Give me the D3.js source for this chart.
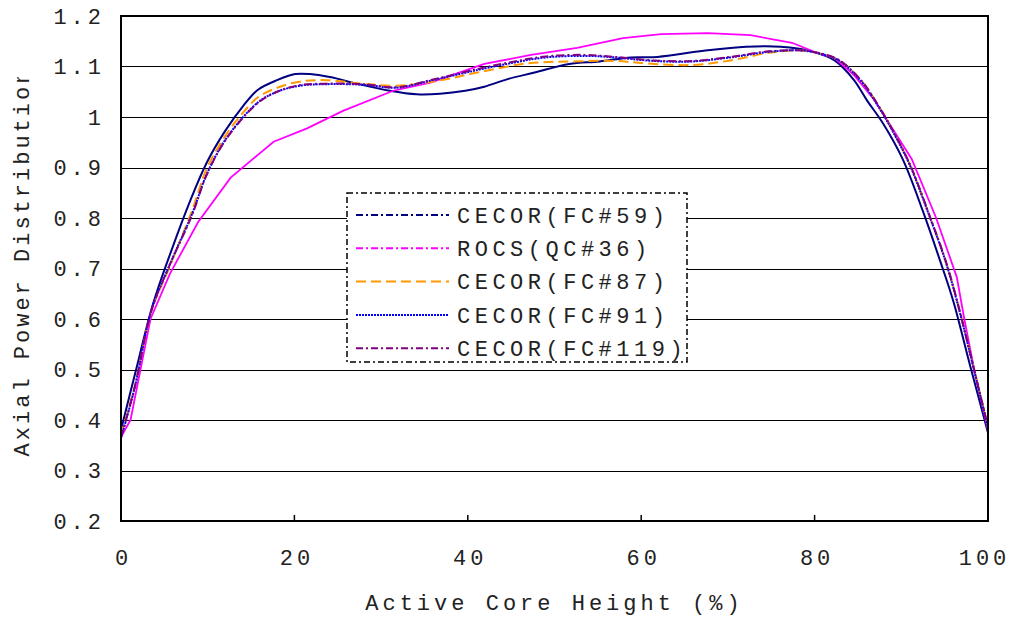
<!DOCTYPE html>
<html>
<head>
<meta charset="utf-8">
<script src="https://cdn.jsdelivr.net/npm/d3@7"></script>
<style>
  body { margin: 0; background: #fff; }
  svg text { font-family: "Liberation Mono", "DejaVu Sans Mono", monospace; fill: #222; }
</style>
</head>
<body>
<div id="chart"></div>
<script>
// data: x = active core height (%), y = axial power
var xTicks = [0, 20, 40, 60, 80, 100];
var yTicks = [0.2, 0.3, 0.4, 0.5, 0.6, 0.7, 0.8, 0.9, 1.0, 1.1, 1.2];

var fc59X = [0, 1.6, 3.7, 5.8, 8.0, 9.9, 12.0, 14.1, 15.8, 18.0, 20.1, 21.8, 24.1, 27.2, 31.0, 34.1, 36.8, 39.7, 41.9, 44.6, 47.7, 51.7, 55.2, 58.8, 61.9, 67.2, 72.1, 76.1, 79.6, 82.3, 84.5, 86.0, 87.9, 90.2, 92.5, 94.5, 96.0, 97.9, 100];
var fc59Y = [0.38, 0.49, 0.63, 0.735, 0.835, 0.91, 0.972, 1.022, 1.054, 1.073, 1.085, 1.085, 1.079, 1.066, 1.052, 1.045, 1.046, 1.052, 1.060, 1.075, 1.088, 1.105, 1.110, 1.118, 1.119, 1.131, 1.139, 1.139, 1.130, 1.112, 1.074, 1.034, 0.987, 0.915, 0.813, 0.714, 0.635, 0.51, 0.375];

var qc36X = [0, 1.1, 3.4, 5.65, 8.9, 12.65, 17.6, 21.4, 25.6, 31.4, 35.7, 41.9, 47.3, 52.6, 57.9, 62.3, 67.7, 72.6, 77.4, 80.1, 82.3, 84.6, 86.8, 91.2, 94.0, 96.4, 97.3, 98.5, 100];
var qc36Y = [0.366, 0.40, 0.60, 0.69, 0.792, 0.880, 0.951, 0.977, 1.012, 1.052, 1.068, 1.105, 1.123, 1.137, 1.156, 1.164, 1.166, 1.162, 1.147, 1.128, 1.117, 1.082, 1.036, 0.917, 0.801, 0.683, 0.597, 0.492, 0.38];

var fc87X = [0, 1.6, 3.5, 5.65, 8.2, 9.9, 12.2, 14.1, 15.8, 18.0, 20.6, 23.7, 27.9, 31.8, 36.6, 41.1, 46.8, 52.1, 57.0, 60.6, 65.9, 70.3, 74.7, 78.3, 80.5, 82.8, 85.4, 87.2, 89.1, 91.0, 93.3, 95.2, 96.8, 98.3, 100];
var fc87Y = [0.37, 0.468, 0.615, 0.705, 0.815, 0.898, 0.967, 1.009, 1.039, 1.058, 1.070, 1.073, 1.066, 1.062, 1.072, 1.088, 1.106, 1.110, 1.111, 1.106, 1.103, 1.112, 1.127, 1.132, 1.126, 1.112, 1.072, 1.027, 0.970, 0.905, 0.802, 0.710, 0.612, 0.507, 0.387];

var fc91X = [0, 1.6, 3.5, 5.65, 8.2, 9.9, 12.2, 15.8, 18.0, 20.6, 23.7, 27.9, 31.8, 35.7, 41.1, 45.4, 49.0, 53.5, 57.0, 61.4, 65.9, 70.3, 74.7, 78.3, 80.5, 82.8, 85.4, 87.2, 89.1, 91.0, 93.3, 95.2, 96.8, 98.3, 100];
var fc91Y = [0.364, 0.465, 0.617, 0.709, 0.808, 0.887, 0.959, 1.029, 1.050, 1.062, 1.065, 1.064, 1.058, 1.072, 1.093, 1.108, 1.118, 1.121, 1.118, 1.111, 1.110, 1.118, 1.129, 1.132, 1.126, 1.112, 1.070, 1.025, 0.969, 0.904, 0.801, 0.709, 0.610, 0.505, 0.385];

var fc119X = [0, 1.6, 3.5, 5.65, 8.2, 9.9, 12.2, 15.8, 18.0, 20.6, 23.7, 27.9, 31.8, 35.7, 41.1, 45.4, 49.0, 53.5, 57.0, 61.4, 65.9, 70.3, 74.7, 78.3, 80.5, 82.8, 85.4, 87.2, 89.1, 91.0, 93.3, 95.2, 96.8, 98.3, 100];
var fc119Y = [0.366, 0.466, 0.616, 0.708, 0.806, 0.886, 0.958, 1.028, 1.050, 1.063, 1.066, 1.065, 1.059, 1.073, 1.095, 1.110, 1.120, 1.123, 1.119, 1.112, 1.111, 1.119, 1.130, 1.132, 1.127, 1.113, 1.072, 1.027, 0.971, 0.906, 0.803, 0.711, 0.612, 0.507, 0.387];

var seriesNames = ["CECOR(FC#59)", "ROCS(QC#36)", "CECOR(FC#87)", "CECOR(FC#91)", "CECOR(FC#119)"];
var seriesX = [fc59X, qc36X, fc87X, fc91X, fc119X];
var seriesY = [fc59Y, qc36Y, fc87Y, fc91Y, fc119Y];

var colors = ["#000080", "#ff00ff", "#ff9900", "#0000ff", "#800080"];
var plotDash = [null, null, "10,5", "2,1", "8,3,2,3"];
var legendDash = ["7,3,2,3", "7,3,2,3", "10,5", "2,1", "7,3,2,3"];

var width = 1016, height = 620;
var margin = {top: 16, right: 28, bottom: 99, left: 121};
var w = width - margin.left - margin.right;
var h = height - margin.top - margin.bottom;

var fontSize = 22, spacing = 4;

var svg = d3.select("#chart").append("svg")
    .attr("width", width)
    .attr("height", height);

var g = svg.append("g").attr("transform", "translate(" + margin.left + "," + margin.top + ")");

var x = d3.scaleLinear().domain([0, 100]).range([0, w]);
var y = d3.scaleLinear().domain([0.2, 1.2]).range([h, 0]);

// grid
g.append("g")
    .selectAll("line")
    .data(yTicks.slice(1, -1))
    .enter().append("line")
    .attr("x1", 0)
    .attr("x2", w)
    .attr("y1", function (d) { return Math.round(y(d)) + 0.5; })
    .attr("y2", function (d) { return Math.round(y(d)) + 0.5; })
    .attr("stroke", "#000")
    .attr("stroke-width", 1.2);

// axes
var yAxis = g.append("g")
    .call(d3.axisLeft(y).tickValues(yTicks).tickSize(0).tickPadding(20 - spacing)
        .tickFormat(function (d) { return d === 1 ? "1" : d3.format(".1f")(d); }));
yAxis.select(".domain").remove();
yAxis.selectAll("text")
    .attr("font-size", fontSize)
    .attr("letter-spacing", spacing)
    .attr("font-family", null);

var xAxis = g.append("g")
    .attr("transform", "translate(0," + h + ")")
    .call(d3.axisBottom(x).tickValues(xTicks).tickSize(0).tickPadding(28));
xAxis.select(".domain").remove();
xAxis.selectAll("text")
    .attr("font-size", fontSize)
    .attr("letter-spacing", spacing)
    .attr("font-family", null)
    .attr("dx", function (d) { return d === 100 ? -4 : 2; });

// inner tick marks
g.append("g")
    .selectAll("line")
    .data(xTicks.slice(1, -1))
    .enter().append("line")
    .attr("x1", function (d) { return x(d); })
    .attr("x2", function (d) { return x(d); })
    .attr("y1", h)
    .attr("y2", h - 6)
    .attr("stroke", "#000")
    .attr("stroke-width", 1.5);

// series
var smooth = d3.line()
    .x(function (d) { return x(d[0]); })
    .y(function (d) { return y(d[1]); })
    .curve(d3.curveCatmullRom.alpha(0.5));
var straight = d3.line()
    .x(function (d) { return x(d[0]); })
    .y(function (d) { return y(d[1]); });

seriesNames.forEach(function (name, i) {
    var pts = seriesX[i].map(function (v, j) { return [v, seriesY[i][j]]; });
    g.append("path")
        .attr("d", (i === 1 ? straight : smooth)(pts))
        .attr("fill", "none")
        .attr("stroke", colors[i])
        .attr("stroke-width", i === 1 ? 1.8 : 2)
        .attr("stroke-dasharray", plotDash[i]);
});

// frame
g.append("rect")
    .attr("width", w)
    .attr("height", h)
    .attr("fill", "none")
    .attr("stroke", "#000")
    .attr("stroke-width", 2);

// legend
var legend = svg.append("g").attr("transform", "translate(347,193)");
legend.append("rect")
    .attr("width", 340)
    .attr("height", 169)
    .attr("fill", "#fff")
    .attr("stroke", "#000")
    .attr("stroke-width", 1.5)
    .attr("stroke-dasharray", "6,3,2,3");

var rows = legend.selectAll(".row")
    .data(seriesNames)
    .enter().append("g")
    .attr("class", "row")
    .attr("transform", function (d, i) { return "translate(0," + (22 + i * 33.3) + ")"; });
rows.append("line")
    .attr("x1", 9)
    .attr("x2", 102)
    .attr("stroke", function (d, i) { return colors[i]; })
    .attr("stroke-width", 2)
    .attr("stroke-dasharray", function (d, i) { return legendDash[i]; });
rows.append("text")
    .attr("x", 110)
    .attr("dy", "0.35em")
    .attr("font-size", fontSize)
    .attr("letter-spacing", spacing + 0.5)
    .text(function (d) { return d; });

// axis titles
svg.append("text")
    .attr("x", margin.left + w / 2)
    .attr("y", 610)
    .attr("text-anchor", "middle")
    .attr("font-size", fontSize)
    .attr("letter-spacing", spacing)
    .text("Active Core Height (%)");

// y title is cut off at the top in the original
svg.append("clipPath")
    .attr("id", "ytitle-clip")
    .append("rect")
    .attr("x", 0)
    .attr("y", 77)
    .attr("width", 60)
    .attr("height", 500);

svg.append("g")
    .attr("clip-path", "url(#ytitle-clip)")
    .append("text")
    .attr("transform", "translate(29,262) rotate(-90)")
    .attr("text-anchor", "middle")
    .attr("font-size", fontSize)
    .attr("letter-spacing", 3)
    .text("Axial Power Distribution");
</script>
</body>
</html>
